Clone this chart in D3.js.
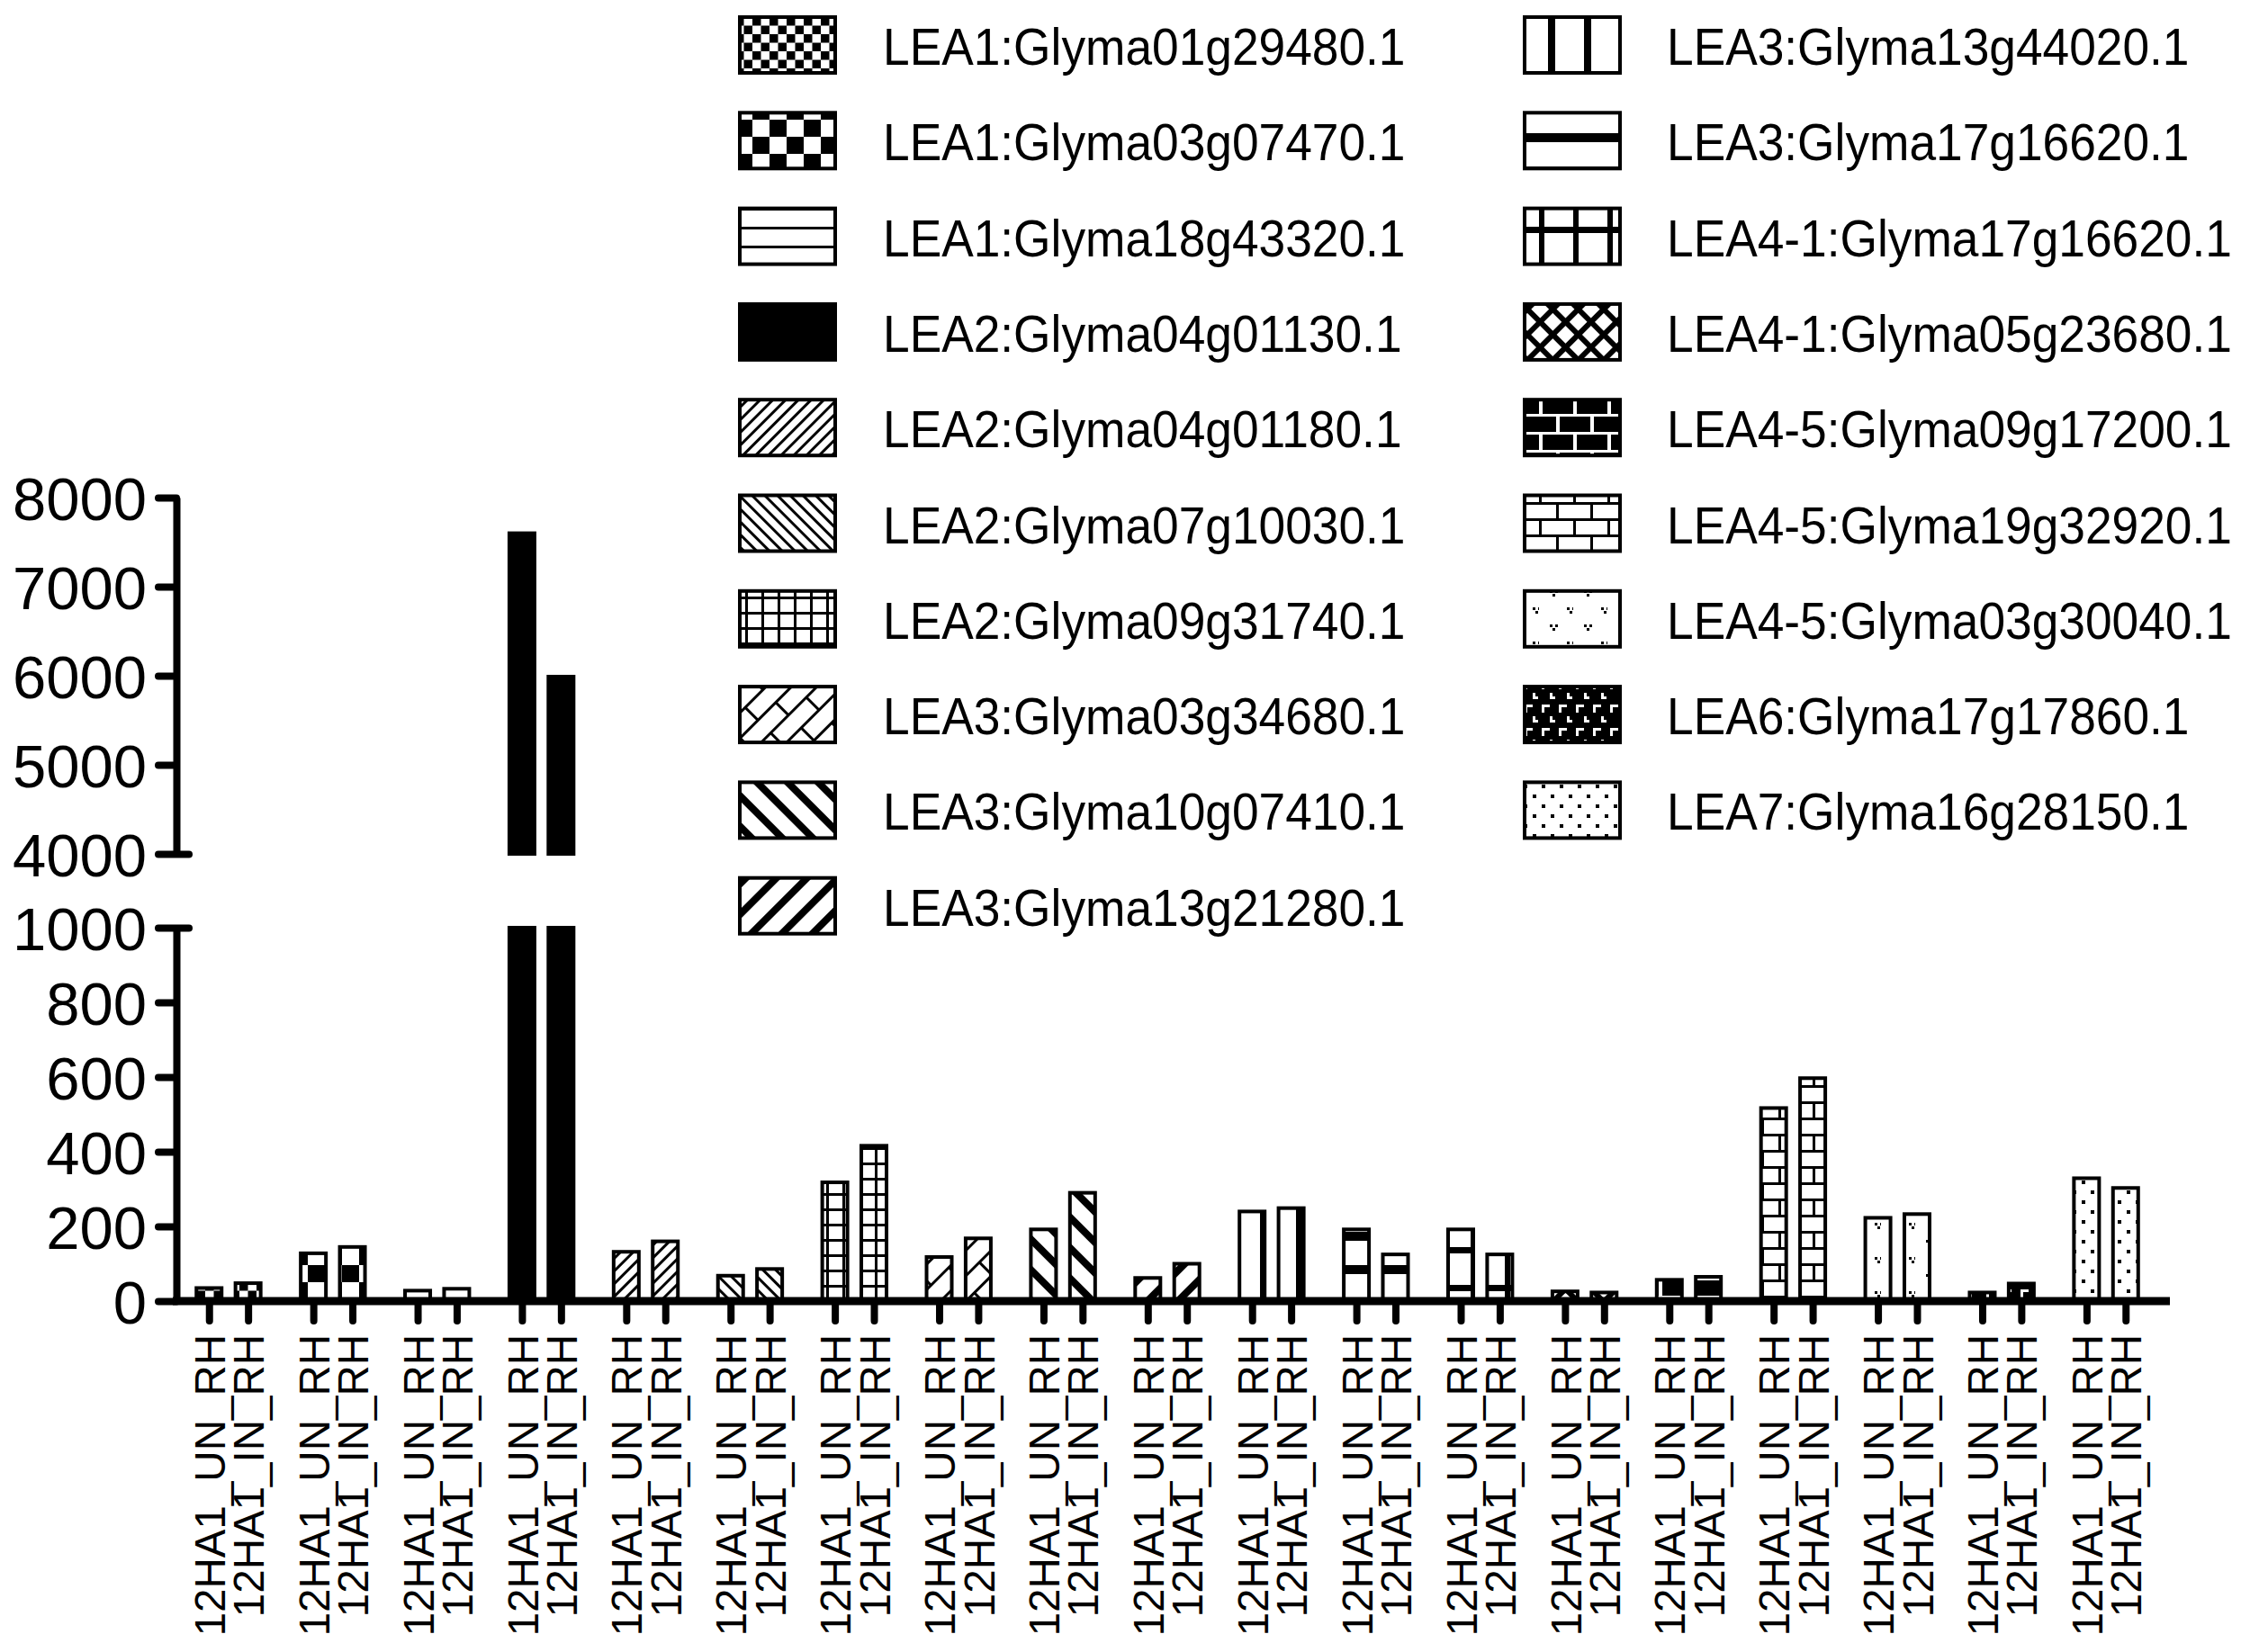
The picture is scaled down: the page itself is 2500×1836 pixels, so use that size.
<!DOCTYPE html>
<html>
<head>
<meta charset="utf-8">
<script src="https://cdn.jsdelivr.net/npm/d3@7"></script>
<style>
  body { margin: 0; background: #fff; }
  svg { display: block; }
  text { font-family: "Liberation Sans", Arial, Helvetica, sans-serif; fill: #000; }
</style>
</head>
<body>
<svg id="chart" width="2500" height="1836"></svg>
<script>
// gene order = legend order = group order on the x axis
const genes = [
  "LEA1:Glyma01g29480.1", "LEA1:Glyma03g07470.1", "LEA1:Glyma18g43320.1",
  "LEA2:Glyma04g01130.1", "LEA2:Glyma04g01180.1", "LEA2:Glyma07g10030.1",
  "LEA2:Glyma09g31740.1", "LEA3:Glyma03g34680.1", "LEA3:Glyma10g07410.1",
  "LEA3:Glyma13g21280.1", "LEA3:Glyma13g44020.1", "LEA3:Glyma17g16620.1",
  "LEA4-1:Glyma17g16620.1", "LEA4-1:Glyma05g23680.1", "LEA4-5:Glyma09g17200.1",
  "LEA4-5:Glyma19g32920.1", "LEA4-5:Glyma03g30040.1", "LEA6:Glyma17g17860.1",
  "LEA7:Glyma16g28150.1"
];
const conditions = ["12HA1_UN_RH", "12HA1_IN_RH"];
const unValues = [35, 128, 28, 7600, 132, 68, 318, 118, 192, 62, 240, 192, 192, 26, 57, 517, 223, 23, 329];
const inValues = [48, 145, 33, 5990, 160, 86, 416, 168, 290, 100, 249, 125, 125, 23, 65, 597, 233, 47, 303];
const lowerTicks = [0, 200, 400, 600, 800, 1000];
const upperTicks = [4000, 5000, 6000, 7000, 8000];

const svg = d3.select("#chart");
const defs = svg.append("defs");

// ---------- fill patterns (one per gene) ----------
function makePattern(id, w, h, bg, rot) {
  const p = defs.append("pattern")
    .attr("id", id)
    .attr("patternUnits", "userSpaceOnUse")
    .attr("width", w).attr("height", h);
  if (rot) p.attr("patternTransform", "rotate(" + rot + ")");
  p.append("rect").attr("width", w).attr("height", h).attr("fill", bg);
  return p;
}
function box(p, x, y, w, h, fill) {
  p.append("rect").attr("x", x).attr("y", y).attr("width", w).attr("height", h)
    .attr("fill", fill || "#000");
}
function vmark(p, x, y) {
  box(p, x, y, 3, 3); box(p, x + 6, y, 3, 3); box(p, x + 3, y + 4, 3, 3);
}

let p;
// 0 fine checkerboard
p = makePattern("p0", 19, 19, "#fff"); box(p, 0, 0, 9.5, 9.5); box(p, 9.5, 9.5, 9.5, 9.5);
// 1 big checkerboard
p = makePattern("p1", 38, 38, "#fff"); box(p, 0, 0, 19, 19); box(p, 19, 19, 19, 19);
// 2 thin horizontal lines
p = makePattern("p2", 10, 21, "#fff"); box(p, 0, 0, 10, 3);
// 3 solid
p = makePattern("p3", 10, 10, "#000");
// 4 thin "/"
p = makePattern("p4", 10, 10, "#fff", 45); box(p, 0, 0, 3, 10);
// 5 thin "\"
p = makePattern("p5", 10, 10, "#fff", -45); box(p, 0, 0, 3, 10);
// 6 thin grid
p = makePattern("p6", 18, 17, "#fff"); box(p, 0, 0, 3, 17); box(p, 0, 0, 18, 3);
// 7 diagonal bricks
p = makePattern("p7", 56, 40, "#fff", -45);
box(p, 0, 0, 56, 3); box(p, 0, 20, 56, 3); box(p, 0, 0, 3, 20); box(p, 28, 20, 3, 20);
// 8 thick "\"
p = makePattern("p8", 24, 24, "#fff", -45); box(p, 0, 0, 8, 24);
// 9 thick "/"
p = makePattern("p9", 24, 24, "#fff", 45); box(p, 0, 0, 8, 24);
// 10 thick vertical stripes
p = makePattern("p10", 40, 10, "#fff"); box(p, 0, 0, 8, 10);
// 11 thick horizontal bands
p = makePattern("p11", 10, 37, "#fff"); box(p, 0, 0, 10, 10);
// 12 thick grid
p = makePattern("p12", 38, 42, "#fff"); box(p, 0, 0, 6, 42); box(p, 0, 0, 38, 7);
// 13 diamond lattice
p = makePattern("p13", 20, 20, "#fff", 45); box(p, 0, 0, 6, 20); box(p, 0, 0, 20, 6);
// 14 black bricks, white mortar
p = makePattern("p14", 38, 40, "#000");
box(p, 0, 0, 38, 3, "#fff"); box(p, 0, 20, 38, 3, "#fff");
box(p, 0, 0, 4, 20, "#fff"); box(p, 19, 20, 4, 20, "#fff");
// 15 white bricks, black mortar
p = makePattern("p15", 38, 36, "#fff");
box(p, 0, 0, 38, 3); box(p, 0, 18, 38, 3); box(p, 0, 0, 3, 18); box(p, 19, 18, 3, 18);
// 16 sparse v marks
p = makePattern("p16", 38, 38, "#fff"); vmark(p, 12, 10); vmark(p, 31, 29);
// 17 black with white L shapes
p = makePattern("p17", 19, 26, "#000");
box(p, 3, 3, 9, 3, "#fff"); box(p, 3, 3, 3, 9, "#fff");
box(p, 12, 16, 3, 7, "#fff"); box(p, 12, 20, 6, 3, "#fff");
// 18 dots
p = makePattern("p18", 20, 22, "#fff"); box(p, 3, 3, 4, 4); box(p, 13, 14, 4, 4);

const fillOf = i => "url(#p" + i + ")";

// ---------- scales ----------
const yLow = d3.scaleLinear().domain([0, 1000]).range([1446, 1031]);
const yHigh = d3.scaleLinear().domain([4000, 8000]).range([949, 553]);

const xGroup = d3.scaleBand().domain(genes).range([196, 2411]).paddingOuter(0.056).align(0);
const xSub = d3.scalePoint().domain(conditions).range([-21.7, 21.7]);
const barX = (g, c) => xGroup(g) + xGroup.bandwidth() / 2 + xSub(c);
const barW = 28;

const bars = genes.flatMap((g, i) => [
  {g: g, i: i, c: conditions[0], v: unValues[i], key: i + "|" + conditions[0]},
  {g: g, i: i, c: conditions[1], v: inValues[i], key: i + "|" + conditions[1]}
]);

// ---------- bars ----------
const barG = svg.append("g");
bars.forEach(b => {
  const x = barX(b.g, b.c) - barW / 2;
  const low = Math.min(b.v, 1000);
  barG.append("rect")
    .attr("x", x).attr("width", barW)
    .attr("y", yLow(low)).attr("height", yLow(0) - yLow(low))
    .attr("fill", fillOf(b.i)).attr("stroke", "#000").attr("stroke-width", 4);
  if (b.v > 4000) {
    barG.append("rect")
      .attr("x", x).attr("width", barW)
      .attr("y", yHigh(b.v)).attr("height", yHigh(4000) - yHigh(b.v))
      .attr("fill", fillOf(b.i)).attr("stroke", "#000").attr("stroke-width", 4);
  }
});

// ---------- y axis (broken) ----------
function styleY(g, breakValue) {
  g.attr("font-family", null).attr("font-size", null);
  g.select(".domain").attr("stroke", "#000").attr("stroke-width", 8);
  g.selectAll(".tick line").attr("stroke", "#000").attr("stroke-width", 8).attr("stroke-linecap", "round");
  g.selectAll(".tick text").attr("font-size", 67).attr("dy", "0.36em").attr("fill", "#000");
  g.selectAll(".tick").filter(d => d === breakValue).select("line").attr("x1", 14);
}
svg.append("g").attr("transform", "translate(196,0)")
  .call(d3.axisLeft(yHigh).tickValues(upperTicks).tickSize(20).tickSizeOuter(0).tickPadding(13).tickFormat(d3.format("d")))
  .call(g => styleY(g, 4000));
svg.append("g").attr("transform", "translate(196,0)")
  .call(d3.axisLeft(yLow).tickValues(lowerTicks).tickSize(20).tickSizeOuter(0).tickPadding(13).tickFormat(d3.format("d")))
  .call(g => styleY(g, 1000));

// ---------- x axis ----------
const xTick = d3.scaleOrdinal()
  .domain(bars.map(b => b.key))
  .range(bars.map(b => barX(b.g, b.c)));
const xAxisG = svg.append("g").attr("transform", "translate(0," + yLow(0) + ")")
  .call(d3.axisBottom(xTick).tickSize(22).tickFormat(k => k.split("|")[1]));
xAxisG.attr("font-family", null).attr("font-size", null);
xAxisG.select(".domain").remove();
xAxisG.selectAll(".tick line").attr("stroke", "#000").attr("stroke-width", 8).attr("stroke-linecap", "round");
xAxisG.selectAll(".tick text")
  .attr("transform", "rotate(-90)")
  .attr("x", -37).attr("y", 0).attr("dy", "0.36em")
  .attr("text-anchor", "end")
  .attr("font-size", 47.5).attr("fill", "#000");
xAxisG.append("line")
  .attr("x1", xGroup.range()[0] - 4).attr("x2", xGroup.range()[1])
  .attr("stroke", "#000").attr("stroke-width", 9);

// ---------- legend ----------
const legendCols = [{swatch: 822, text: 981}, {swatch: 1694, text: 1852}];
const rowY = d3.scaleLinear().domain([0, 1]).range([50, 156.3]);
const legend = svg.append("g");
genes.forEach((g, i) => {
  const col = legendCols[i < 10 ? 0 : 1];
  const cy = rowY(i < 10 ? i : i - 10);
  legend.append("rect")
    .attr("x", col.swatch).attr("y", cy - 31)
    .attr("width", 106).attr("height", 62)
    .attr("fill", fillOf(i)).attr("stroke", "#000").attr("stroke-width", 4);
  // the original labels are a little condensed horizontally
  legend.append("g")
    .attr("transform", "translate(" + col.text + "," + (cy + 22) + ") scale(0.935,1)")
    .append("text")
    .attr("font-size", 57)
    .text(g);
});
</script>
</body>
</html>
